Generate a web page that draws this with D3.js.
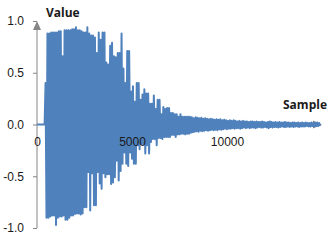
<!DOCTYPE html>
<html>
<head>
<meta charset="utf-8">
<script src="https://cdn.jsdelivr.net/npm/d3@7"></script>
<style>
  body { margin: 0; background: #fff; }
  svg { display: block; font-family: "Open Sans", sans-serif; }
  .tick text { font-size: 12px; fill: #1a1a1a; }
  .axis-title { font-size: 12px; font-weight: bold; fill: #1a1a1a; }
</style>
</head>
<body>
<svg id="chart" width="336" height="240"></svg>
<script>
// waveform: silent lead-in, then one positive and one negative peak per block of samples
const leadIn = [0, 400];          // samples that sit at 0.0
const firstPeak = 450;
const blockSize = 100;
const hiPeaks = [
  0.40, 0.88, 0.88, 0.89, 0.89, 0.89, 0.89, 0.90, 0.90, 0.66,
  0.91, 0.91, 0.91, 0.91, 0.92, 0.92, 0.94, 0.91, 0.91, 0.90,
  0.89, 0.89, 0.94, 0.88, 0.86, 0.86, 0.84, 0.69, 0.89, 0.82,
  0.89, 0.89, 0.60, 0.58, 0.76, 0.79, 0.66, 0.65, 0.69, 0.69,
  0.88, 0.54, 0.40, 0.71, 0.71, 0.32, 0.37, 0.22, 0.40, 0.40,
  0.24, 0.29, 0.34, 0.30, 0.30, 0.20, 0.20, 0.28, 0.15, 0.24,
  0.24, 0.10, 0.17, 0.15, 0.16, 0.16, 0.11, 0.11, 0.10, 0.10,
  0.075, 0.10, 0.075, 0.075, 0.075, 0.075, 0.075, 0.07, 0.06, 0.07,
  0.065, 0.06, 0.065, 0.055, 0.06, 0.055, 0.05, 0.055, 0.05, 0.045,
  0.05, 0.045, 0.05, 0.04, 0.045, 0.04, 0.035, 0.04, 0.035, 0.04,
  0.035, 0.03, 0.035, 0.03, 0.035, 0.03, 0.03, 0.025, 0.03, 0.03,
  0.025, 0.03, 0.025, 0.025, 0.03, 0.025, 0.02, 0.025, 0.03, 0.025,
  0.02, 0.025, 0.02, 0.025, 0.02, 0.02, 0.025, 0.02, 0.02, 0.015,
  0.02, 0.02, 0.015, 0.02, 0.015, 0.02, 0.015, 0.02, 0.015, 0.015,
  0.02, 0.015, 0.015, 0.02, 0.015
];
const loPeaks = [
  -0.90, -0.90, -0.89, -0.88, -0.88, -0.97, -0.90, -0.89, -0.89, -0.88,
  -0.92, -0.92, -0.90, -0.88, -0.88, -0.865, -0.86, -0.86, -0.87, -0.86,
  -0.80, -0.80, -0.46, -0.83, -0.47, -0.78, -0.78, -0.46, -0.57, -0.62,
  -0.47, -0.51, -0.48, -0.48, -0.575, -0.56, -0.51, -0.35, -0.54, -0.45,
  -0.38, -0.27, -0.38, -0.40, -0.27, -0.33, -0.38, -0.38, -0.20, -0.24,
  -0.19, -0.19, -0.28, -0.20, -0.28, -0.17, -0.14, -0.14, -0.20, -0.13,
  -0.13, -0.14, -0.12, -0.12, -0.12, -0.12, -0.10, -0.10, -0.12, -0.095,
  -0.095, -0.09, -0.09, -0.095, -0.09, -0.09, -0.08, -0.075, -0.07, -0.065,
  -0.07, -0.06, -0.065, -0.06, -0.055, -0.06, -0.055, -0.05, -0.055, -0.05,
  -0.055, -0.045, -0.05, -0.045, -0.04, -0.045, -0.04, -0.04, -0.035, -0.04,
  -0.035, -0.035, -0.04, -0.035, -0.03, -0.035, -0.03, -0.035, -0.03, -0.03,
  -0.035, -0.03, -0.025, -0.03, -0.03, -0.025, -0.03, -0.035, -0.025, -0.03,
  -0.025, -0.025, -0.03, -0.025, -0.02, -0.025, -0.025, -0.02, -0.025, -0.02,
  -0.025, -0.02, -0.02, -0.025, -0.02, -0.02, -0.02, -0.015, -0.02, -0.02,
  -0.015, -0.02, -0.015, -0.015, -0.015
];
const xTicks = [0, 5000, 10000];
const yTicks = [-1.0, -0.5, 0.0, 0.5, 1.0];
const xMax = 15000;

const points = leadIn.map(s => [s, 0]);
hiPeaks.forEach((v, i) => {
  const s = firstPeak + i * blockSize;
  points.push([s, v]);
  points.push([s + blockSize / 2, loPeaks[i]]);
});

const svg = d3.select("#chart");
const x = d3.scaleLinear().domain([0, 10000]).range([37, 227]);
const y = d3.scaleLinear().domain([-1, 1]).range([228, 21]);
const axisColor = "#868686";

// y axis
const yAxis = svg.append("g")
  .attr("transform", `translate(${x(0)},0)`)
  .call(d3.axisLeft(y).tickValues(yTicks).tickSize(4).tickPadding(9)
    .tickFormat(d => d.toFixed(1)));
yAxis.select(".domain").remove();
yAxis.selectAll(".tick line").attr("stroke", axisColor);
yAxis.selectAll(".tick text").attr("font-family", null).attr("font-size", null);

svg.append("line")
  .attr("x1", x(0)).attr("x2", x(0))
  .attr("y1", y(-1)).attr("y2", y(1) + 8)
  .attr("stroke", axisColor);
svg.append("path")
  .attr("d", `M${x(0)},${y(1)}L${x(0) - 4},${y(1) + 9}L${x(0) + 4},${y(1) + 9}Z`)
  .attr("fill", axisColor);

// x axis along zero
svg.append("line")
  .attr("x1", x(0)).attr("x2", x(xMax) - 8)
  .attr("y1", y(0)).attr("y2", y(0))
  .attr("stroke", axisColor);
svg.append("path")
  .attr("d", `M${x(xMax)},${y(0)}L${x(xMax) - 9},${y(0) - 4}L${x(xMax) - 9},${y(0) + 4}Z`)
  .attr("fill", axisColor);

const xAxis = svg.append("g")
  .attr("transform", `translate(0,${y(0)})`)
  .call(d3.axisBottom(x).tickValues(xTicks).tickSize(0).tickPadding(13)
    .tickFormat(d3.format("d")));
xAxis.select(".domain").remove();
xAxis.selectAll(".tick text").attr("font-family", null).attr("font-size", null);

// waveform
svg.append("path")
  .datum(points)
  .attr("fill", "none")
  .attr("stroke", "#4F81BD")
  .attr("stroke-width", 2)
  .attr("stroke-linejoin", "round")
  .attr("d", d3.line().x(d => x(d[0])).y(d => y(d[1])));

// x tick labels sit over the waveform
xAxis.raise();

svg.append("text").attr("class", "axis-title")
  .attr("x", 46).attr("y", 17).text("Value");
svg.append("text").attr("class", "axis-title")
  .attr("x", 327).attr("y", 109).attr("text-anchor", "end").text("Sample");
</script>
</body>
</html>
